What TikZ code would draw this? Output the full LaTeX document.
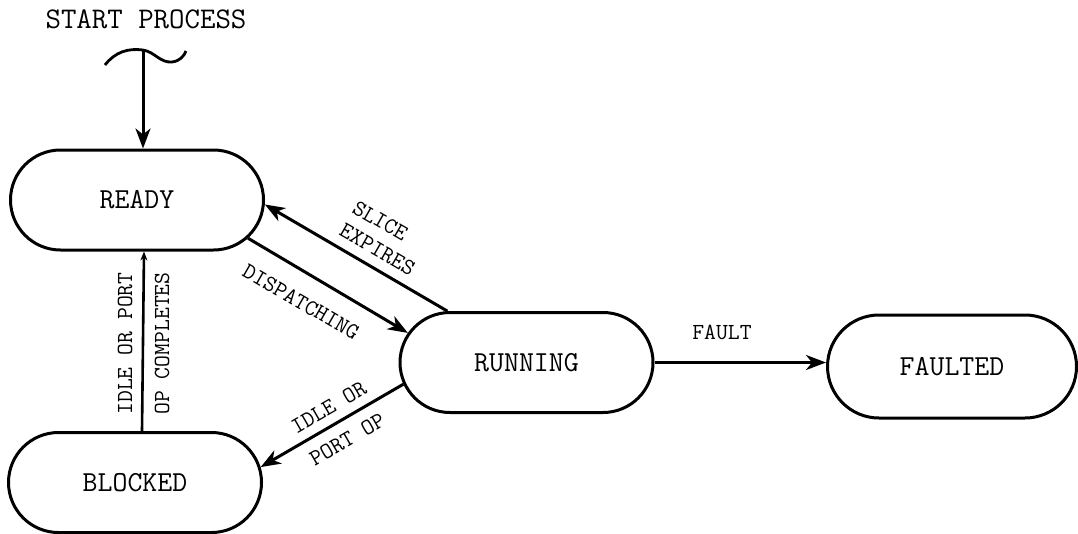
\documentclass[tikz,border=0pt]{standalone}
\usetikzlibrary{shapes.misc,arrows.meta}
\begin{document}
\begin{tikzpicture}[x=1pt,y=-1pt,
  state/.style={rounded rectangle, draw, line width=3pt, minimum width=253pt, minimum height=100pt,
    font=\fontsize{29}{32}\selectfont\ttfamily, inner sep=0pt},
  lbl/.style={font=\fontsize{23}{26}\selectfont\ttfamily, inner sep=0pt},
  conn/.style={line width=3pt, -{Stealth[length=20pt,width=15pt,inset=6pt]}},
  thinconn/.style={line width=2.6pt, -{Stealth[length=9pt,width=7pt]}}]
\useasboundingbox (0,0) rectangle (1078,533);
\node[state] (ready) at (137,200) {READY};
\node[state] (blocked) at (135,482.5) {BLOCKED};
\node[state] (running) at (526.5,362.5) {RUNNING};
\node[state, minimum width=249pt, minimum height=103pt] (faulted) at (952,366.5) {FAULTED};

\node[lbl, font=\fontsize{30}{32}\selectfont\ttfamily] (start) at (146,19) {START PROCESS};
\coordinate (s) at (143,50);
\draw[line width=2.8pt] (105,65) .. controls (115,52) and (128,48) .. (s)
  .. controls (155,52) and (160,63) .. (172,62) .. controls (180,61) and (184,56) .. (186,51);
\draw[conn] (s) -- (s |- ready.north);

\draw[conn] (ready.-19) -- (running.166);
\draw[conn] (running.147) -- (ready.-2);
\draw[conn] (running.-170) -- (blocked.7);
\draw[thinconn] ([xshift=7pt]blocked.north) -- ([xshift=7pt]ready.south);
\draw[conn] (running.east) -- (running.east -| faulted.west);

\node[lbl, rotate=-30, align=left] (slice) at (384,238) {SLICE\\EXPIRES};
\node[lbl, rotate=-30] (disp) at (301,302) {DISPATCHING};
\node[lbl, rotate=90, align=center] (idleport) at (143.5,343.5) {IDLE OR PORT\\[11pt]OP COMPLETES};
\node[lbl, rotate=30, align=center] (idleor) at (338,423.5) {IDLE OR\\[11pt]PORT OP};
\node[lbl] (fault) at (722,332) {FAULT};
\end{tikzpicture}
\end{document}
